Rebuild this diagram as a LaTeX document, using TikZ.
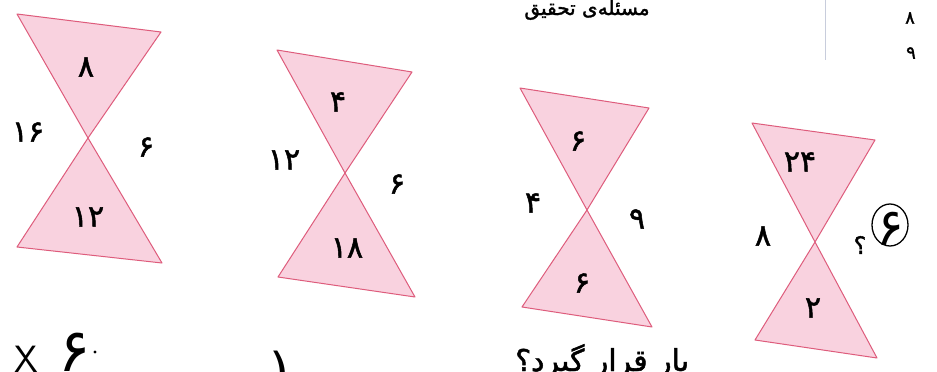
\documentclass[tikz,border=0pt]{standalone}
\usepackage{fontspec}
\newfontfamily\fa[Script=Arabic,FakeBold=1.6]{DejaVu Sans}
\newfontfamily\fl[Script=Arabic]{DejaVu Sans}
\TeXXeTstate=1
\definecolor{hgfill}{RGB}{249,210,223}
\definecolor{hgline}{RGB}{222,92,124}
\definecolor{rule}{RGB}{200,205,220}
\tikzset{
  tri/.style={fill=hgfill, draw=hgline, line width=1pt, line join=round},
  num/.style={font=\fa\fontsize{30}{30}\selectfont, inner sep=0pt, text=black},
  small/.style={font=\fa\fontsize{18}{18}\selectfont, inner sep=0pt, text=black},
  hand/.style={font=\fl\fontsize{52}{52}\selectfont, inner sep=0pt, text=black},
}
\begin{document}
\begin{tikzpicture}[x=1pt,y=-1pt]
\useasboundingbox (0,0) rectangle (937,372);
\clip (0,0) rectangle (937,372);
\fill[white] (0,0) rectangle (937,372);

% hourglass 1
\coordinate (tl1) at (17,14);  \coordinate (tr1) at (161,32);
\coordinate (c1)  at (88,138);
\coordinate (bl1) at (17,247); \coordinate (br1) at (162,263);
\draw[tri] (tl1) -- (tr1) -- (c1) -- cycle;
\draw[tri] (c1) -- (br1) -- (bl1) -- cycle;
\node[num] (t1) at (86,67) {۸};
\node[num] (l1) at (28,132) {۱۶};
\node[num] (r1) at (146,147) {۶};
\node[num] (b1) at (88,217) {۱۲};

% hourglass 2
\coordinate (tl2) at (277,50);  \coordinate (tr2) at (412,72);
\coordinate (c2)  at (345,173);
\coordinate (bl2) at (278,277); \coordinate (br2) at (415,297);
\draw[tri] (tl2) -- (tr2) -- (c2) -- cycle;
\draw[tri] (c2) -- (br2) -- (bl2) -- cycle;
\node[num] (t2) at (338,102) {۴};
\node[num] (l2) at (284,160) {۱۲};
\node[num] (r2) at (397,184) {۶};
\node[num] (b2) at (347,248) {۱۸};

% hourglass 3
\coordinate (tl3) at (520,88);  \coordinate (tr3) at (649,108);
\coordinate (c3)  at (587,210);
\coordinate (bl3) at (522,307); \coordinate (br3) at (652,327);
\draw[tri] (tl3) -- (tr3) -- (c3) -- cycle;
\draw[tri] (c3) -- (br3) -- (bl3) -- cycle;
\node[num] (t3) at (578,141) {۶};
\node[num] (l3) at (533,203) {۴};
\node[num] (r3) at (637,219) {۹};
\node[num] (b3) at (582,283) {۶};

% hourglass 4
\coordinate (tl4) at (752,123);  \coordinate (tr4) at (875,140);
\coordinate (c4)  at (815,242);
\coordinate (bl4) at (755,340); \coordinate (br4) at (877,358);
\draw[tri] (tl4) -- (tr4) -- (c4) -- cycle;
\draw[tri] (c4) -- (br4) -- (bl4) -- cycle;
\node[num] (t4) at (800,162) {۲۴};
\node[num] (l4) at (763,236) {۸};
\node[num] (b4) at (813,308) {۲};
\node[font=\fa\fontsize{24}{24}\selectfont, inner sep=0pt] (r4) at (860,245) {؟};
\node[hand] (ans) at (890,229) {۶};
\draw[line width=1.3pt] (890,225) ellipse (18 and 21);

% top cut-off text and table
\node[font=\fa\fontsize{20}{20}\selectfont, inner sep=0pt, anchor=base] (title) at (587,15) {\beginR مسئله‌ی تحقیق\endR};
\draw[rule, line width=0.6pt] (825,0) -- (825,60);
\node[small] (n8) at (910,18) {۸};
\node[small] (n9) at (911,53) {۹};

% bottom cut-off text
\node[font=\fa\fontsize{30}{30}\selectfont, inner sep=0pt, anchor=base west] (q) at (515,371) {\beginR بار قرار گیرد؟\endR};
\node[font=\sffamily\fontsize{38}{38}\selectfont, inner sep=0pt, anchor=base] (x) at (26,372) {X};
\node[font=\fl\fontsize{60}{60}\selectfont, inner sep=0pt, anchor=base] (h6) at (75,371) {۶};
\fill (95,352) circle (1.6);
\node[hand, anchor=base] (par) at (280,390) {(};
\end{tikzpicture}
\end{document}
